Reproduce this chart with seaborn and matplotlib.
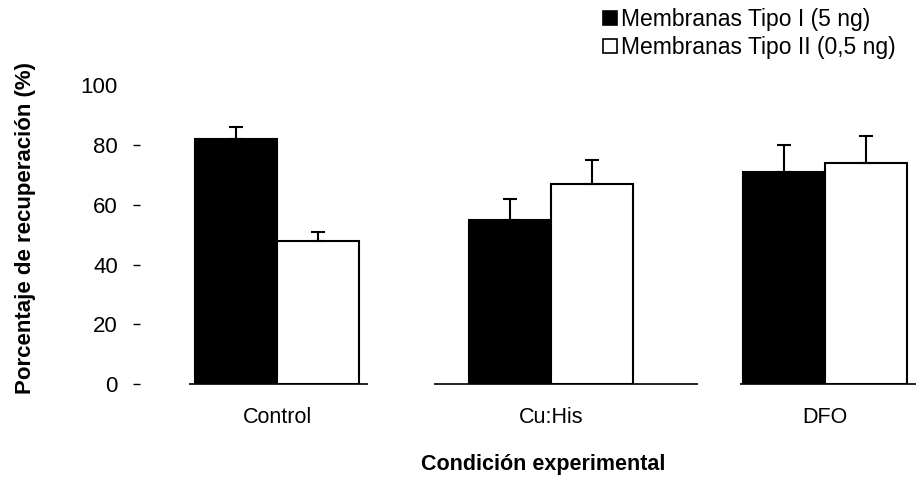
import matplotlib
matplotlib.use("Agg")
import matplotlib.pyplot as plt
import seaborn as sns
import pandas as pd
import numpy as np
from matplotlib.patches import Patch

categories = ["Control", "Cu:His", "DFO"]
series_names = ["Membranas Tipo I (5 ng)", "Membranas Tipo II (0,5 ng)"]
tipo1 = [82, 55, 71]
tipo2 = [48, 67, 74]
err1 = [4, 7, 9]
err2 = [3, 8, 9]
yticks = [0, 20, 40, 60, 80, 100]

rows = []
for c, v in zip(categories, tipo1):
    rows.append({"cond": c, "serie": series_names[0], "val": v})
for c, v in zip(categories, tipo2):
    rows.append({"cond": c, "serie": series_names[1], "val": v})
df = pd.DataFrame(rows)

sns.set_style("white")
plt.rcParams["font.family"] = ["Liberation Sans", "DejaVu Sans"]
for k in ["text.color", "axes.labelcolor", "xtick.color", "ytick.color"]:
    plt.rcParams[k] = "black"

fig = plt.figure(figsize=(9.18, 4.79), dpi=100)
ax = fig.add_axes([0.1525, 0.198, 0.845, 0.6245])

sns.barplot(data=df, x="cond", y="val", hue="serie", order=categories,
            hue_order=series_names, palette=["black", "white"],
            edgecolor="black", linewidth=1.5, width=0.6, errorbar=None,
            saturation=1, ax=ax, legend=False)

# error bars (upward only), positioned from the bars seaborn drew
patches = [p for p in ax.patches if p.get_height() > 0]
errs = err1 + err2
vals = tipo1 + tipo2
for p, e, v in zip(patches, errs, vals):
    xc = p.get_x() + p.get_width() / 2
    ax.errorbar(xc, v, yerr=[[0], [e]], fmt="none", ecolor="black",
                elinewidth=1.5, capsize=5, capthick=1.5)

ax.set_xlim(-0.5, 2.33)
ax.set_ylim(0, 100)
ax.set_yticks(yticks)
ax.set_yticklabels([str(t) for t in yticks], fontsize=16)
ax.tick_params(axis="y", which="both", left=True, length=5, width=1, pad=11, color="black")
ax.tick_params(axis="x", bottom=False, pad=13, labelsize=15.5)
for s in ax.spines.values():
    s.set_visible(False)
# no tick mark at 100 in the reference
ax.yaxis.get_major_ticks()[-1].tick1line.set_visible(False)

# broken baseline segments under each group
ax.hlines(0, -0.32, 0.333, color="black", linewidth=1.2, clip_on=False)
ax.hlines(0, 0.572, 1.536, color="black", linewidth=1.2, clip_on=False)
ax.hlines(0, 1.69, 2.33, color="black", linewidth=1.2, clip_on=False)

ax.set_xlabel("Condición experimental", fontsize=15.5, fontweight="bold")
ax.set_ylabel("Porcentaje de recuperación (%)", fontsize=16, fontweight="bold")
ax.xaxis.set_label_coords((543 - 140) / (0.845 * 918), (384 - 464) / (0.6245 * 479),
                          transform=ax.transAxes)
ax.xaxis.label.set_verticalalignment("center")
ax.yaxis.set_label_coords((26 - 140) / (0.845 * 918), (384 - 228) / (0.6245 * 479),
                          transform=ax.transAxes)
ax.yaxis.label.set_verticalalignment("center")

handles = [Patch(facecolor="black", edgecolor="black", linewidth=1.2),
           Patch(facecolor="white", edgecolor="black", linewidth=1.2)]
fig.legend(handles, series_names, loc="upper left",
           bbox_to_anchor=(603 / 918, 1 - 8 / 479),
           frameon=False, fontsize=16.5, handlelength=0.6, handleheight=0.6,
           handletextpad=0.2, labelspacing=0.22, borderaxespad=0, borderpad=0)

fig.savefig("out.png", dpi=100)
